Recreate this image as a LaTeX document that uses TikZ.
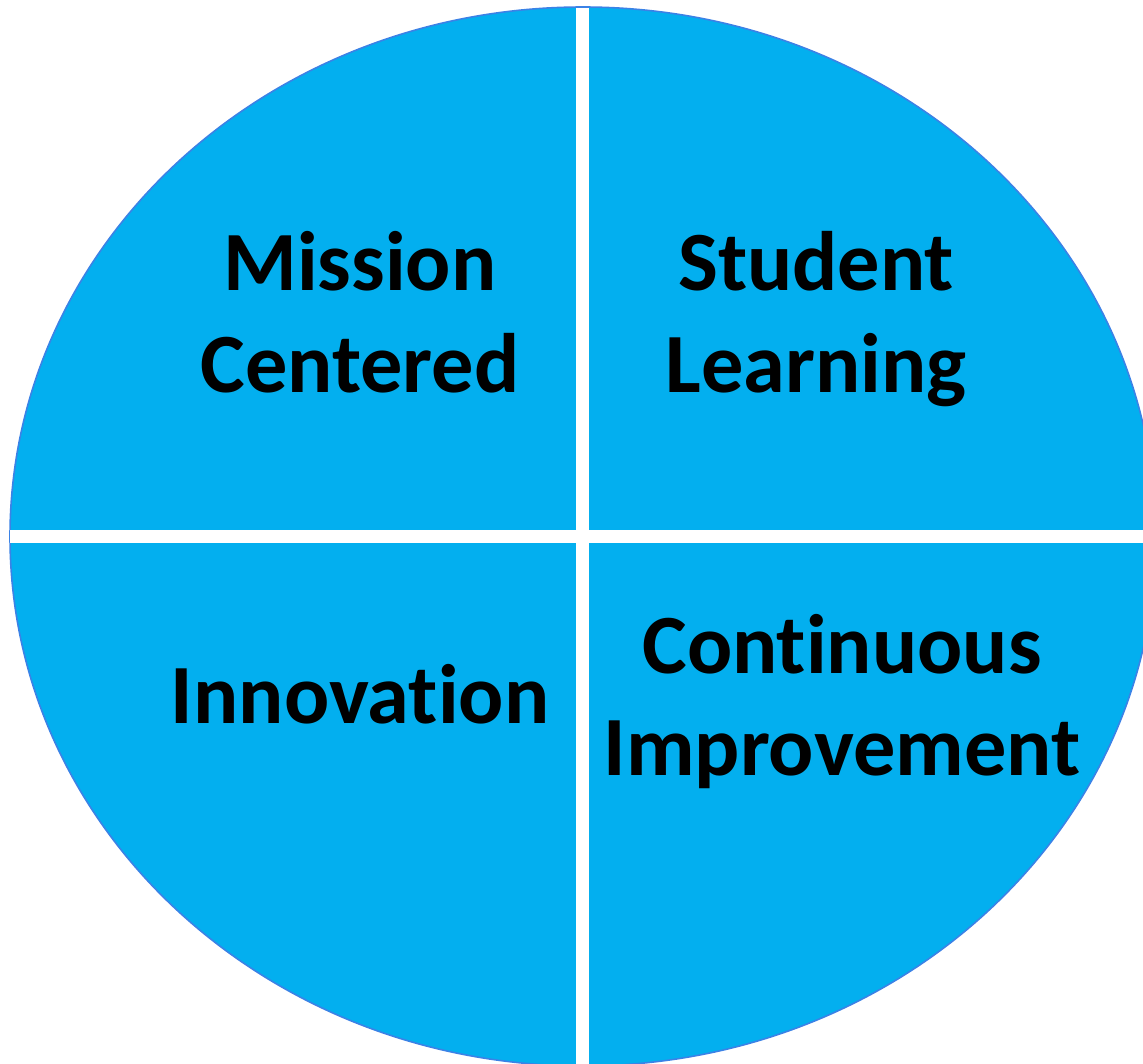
\documentclass[tikz,border=0pt]{standalone}
\usepackage{fontspec}
\setmainfont{Carlito}[Ligatures=NoCommon]
\definecolor{fillblue}{HTML}{03AFEF}
\definecolor{edgeblue}{HTML}{3B82E6}
\begin{document}
\begin{tikzpicture}[x=0.02cm,y=-0.02cm,
  quadtext/.style={font=\fontsize{48}{58}\selectfont\bfseries, align=center, inner sep=0pt, text=black, anchor=center}]
\useasboundingbox (0,0) rectangle (1143,1064);
\begin{scope}
\clip (0,0) rectangle (1143,1064);
\draw[fill=fillblue, draw=edgeblue, line width=0.9pt] (583,536.5) ellipse [x radius=573, y radius=529.5];
\fill[white] (10,530) rectangle (1143,543);
\fill[white] (576,8) rectangle (589,1064);
\end{scope}
\node[quadtext] (mission) at (360,320.7) {\strut Mission\\\strut Centered};
\node[quadtext] (student) at (816,320.7) {\strut Student\\\strut Learning};
\node[quadtext] (innovation) at (360,703.5) {\strut Innovation};
\node[quadtext] (continuous) at (842,703.7) {\strut Continuous\\\strut Improvement};
\end{tikzpicture}
\end{document}
